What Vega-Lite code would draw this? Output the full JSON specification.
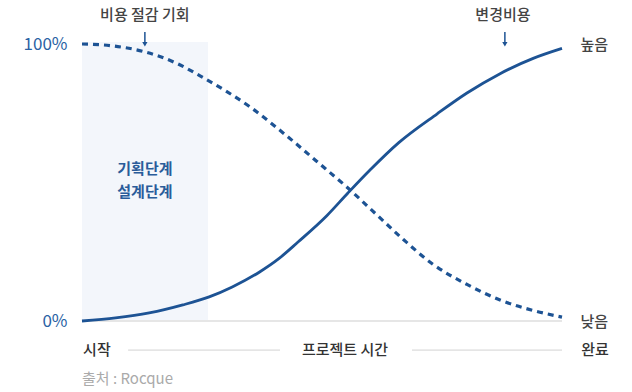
{
  "$schema": "https://vega.github.io/schema/vega-lite/v6.json",
  "autosize": "none",
  "width": 480,
  "height": 277,
  "padding": {"left": 82, "top": 44, "right": 70, "bottom": 71},
  "background": "white",
  "config": {"font": "Noto Sans CJK KR", "view": {"stroke": null}},
  "datasets": {
    "cost_saving": [
      {"t": 0, "v": 100}, {"t": 6, "v": 99.4}, {"t": 13, "v": 97.2}, {"t": 20, "v": 92.8},
      {"t": 24.6, "v": 88.5}, {"t": 30, "v": 83}, {"t": 35, "v": 77.3}, {"t": 41.9, "v": 67.9},
      {"t": 49, "v": 57.5}, {"t": 55.4, "v": 48}, {"t": 61, "v": 39}, {"t": 66.9, "v": 29.5},
      {"t": 73.1, "v": 20.5}, {"t": 80.2, "v": 13.2}, {"t": 87.1, "v": 7.6}, {"t": 94, "v": 3.8},
      {"t": 100, "v": 1.4}
    ],
    "change_cost": [
      {"t": 0, "v": 0}, {"t": 7, "v": 1.1}, {"t": 14, "v": 2.9}, {"t": 21, "v": 5.8},
      {"t": 26.5, "v": 8.7}, {"t": 31.3, "v": 12.3}, {"t": 37, "v": 17.7}, {"t": 41, "v": 22.5},
      {"t": 45, "v": 28.5}, {"t": 51, "v": 38}, {"t": 55.4, "v": 46.2}, {"t": 60, "v": 54.5},
      {"t": 66, "v": 64.4}, {"t": 74, "v": 74.8}, {"t": 80.2, "v": 82.3}, {"t": 87.1, "v": 89.3},
      {"t": 94, "v": 94.8}, {"t": 100, "v": 98.4}
    ]
  },
  "resolve": {"axis": {"y": "independent"}},
  "layer": [
    {
      "data": {"values": [{"x0": 0, "x1": 26.25, "y0": 0, "y1": 100.7}]},
      "mark": {"type": "rect", "color": "#f3f6fb"},
      "encoding": {
        "x": {"field": "x0", "type": "quantitative", "scale": {"domain": [0, 100], "nice": false}, "axis": null},
        "x2": {"field": "x1"},
        "y": {"field": "y0", "type": "quantitative", "scale": {"domain": [0, 100], "nice": false}, "axis": null},
        "y2": {"field": "y1"}
      }
    },
    {
      "data": {"values": [{"a": 0, "b": 100, "y": 0}]},
      "mark": {"type": "rule", "color": "#e6e6e6", "strokeWidth": 2},
      "encoding": {
        "x": {"field": "a", "type": "quantitative", "axis": null},
        "x2": {"field": "b"},
        "y": {"field": "y", "type": "quantitative", "axis": null}
      }
    },
    {
      "data": {"name": "change_cost"},
      "mark": {"type": "line", "interpolate": "monotone", "color": "#1d5394", "strokeWidth": 2.8},
      "encoding": {
        "x": {"field": "t", "type": "quantitative", "axis": null},
        "y": {"field": "v", "type": "quantitative", "axis": {
          "orient": "left", "values": [0, 100], "labelExpr": "datum.value + '%'", "title": null,
          "domain": false, "ticks": false, "grid": false, "labelPadding": 15,
          "labelColor": "#2a62a4", "labelFontSize": 17, "labelFont": "Noto Sans CJK KR"
        }}
      }
    },
    {
      "data": {"name": "cost_saving"},
      "mark": {"type": "line", "interpolate": "monotone", "color": "#1d5394", "strokeWidth": 3.2, "strokeDash": [6, 5]},
      "encoding": {
        "x": {"field": "t", "type": "quantitative", "axis": null},
        "y": {"field": "v", "type": "quantitative", "axis": {
          "orient": "right", "values": [0, 100], "labelExpr": "datum.value == 100 ? '높음' : '낮음'", "title": null,
          "domain": false, "ticks": false, "grid": false, "labelPadding": 18,
          "labelColor": "#444444", "labelFontSize": 15, "labelFont": "Noto Sans CJK KR", "labelFontWeight": 500
        }}
      }
    },
    {
      "data": {"values": [{"x": 13.1, "y": 104.3, "y2": 100.6}, {"x": 88.1, "y": 104.3, "y2": 100.6}]},
      "mark": {"type": "rule", "color": "#1d5394", "strokeWidth": 1.5},
      "encoding": {
        "x": {"field": "x", "type": "quantitative", "axis": null},
        "y": {"field": "y", "type": "quantitative", "axis": null},
        "y2": {"field": "y2"}
      }
    },
    {
      "data": {"values": [{"x": 13.1, "y": 99.9}, {"x": 88.1, "y": 99.9}]},
      "mark": {"type": "point", "shape": "triangle-down", "filled": true, "color": "#1d5394", "size": 28, "opacity": 1},
      "encoding": {
        "x": {"field": "x", "type": "quantitative", "axis": null},
        "y": {"field": "y", "type": "quantitative", "axis": null}
      }
    },
    {
      "data": {"values": [{"a": 9.6, "b": 41.25, "y": -10.5}, {"a": 68.75, "b": 100, "y": -10.5}]},
      "mark": {"type": "rule", "color": "#d2d2d2", "strokeWidth": 1},
      "encoding": {
        "x": {"field": "a", "type": "quantitative", "axis": null},
        "x2": {"field": "b"},
        "y": {"field": "y", "type": "quantitative", "axis": null}
      }
    },
    {
      "data": {"values": [
        {"label": "비용 절감 기회", "x": 13.1, "y": 110.5},
        {"label": "변경비용", "x": 87.7, "y": 110.5}
      ]},
      "mark": {"type": "text", "fontSize": 15, "color": "#444444", "fontWeight": 500, "align": "center", "baseline": "middle"},
      "encoding": {
        "x": {"field": "x", "type": "quantitative", "axis": null},
        "y": {"field": "y", "type": "quantitative", "axis": null},
        "text": {"field": "label"}
      }
    },
    {
      "data": {"values": [
        {"label": "기획단계", "x": 13.1, "y": 54.9},
        {"label": "설계단계", "x": 13.1, "y": 46.6}
      ]},
      "mark": {"type": "text", "fontSize": 15, "color": "#2a5c9a", "fontWeight": 600, "align": "center", "baseline": "middle"},
      "encoding": {
        "x": {"field": "x", "type": "quantitative", "axis": null},
        "y": {"field": "y", "type": "quantitative", "axis": null},
        "text": {"field": "label"}
      }
    },
    {
      "data": {"values": [
        {"label": "시작", "x": 3.1, "y": -10.5},
        {"label": "프로젝트 시간", "x": 54.8, "y": -10.5},
        {"label": "완료", "x": 106.9, "y": -10.5}
      ]},
      "mark": {"type": "text", "fontSize": 15, "color": "#333333", "fontWeight": 500, "align": "center", "baseline": "middle"},
      "encoding": {
        "x": {"field": "x", "type": "quantitative", "axis": null},
        "y": {"field": "y", "type": "quantitative", "axis": null},
        "text": {"field": "label"}
      }
    },
    {
      "data": {"values": [{"label": "출처 : Rocque", "x": 0, "y": -20.9}]},
      "mark": {"type": "text", "fontSize": 15, "color": "#aaaaaa", "align": "left", "baseline": "middle"},
      "encoding": {
        "x": {"field": "x", "type": "quantitative", "axis": null},
        "y": {"field": "y", "type": "quantitative", "axis": null},
        "text": {"field": "label"}
      }
    }
  ]
}
